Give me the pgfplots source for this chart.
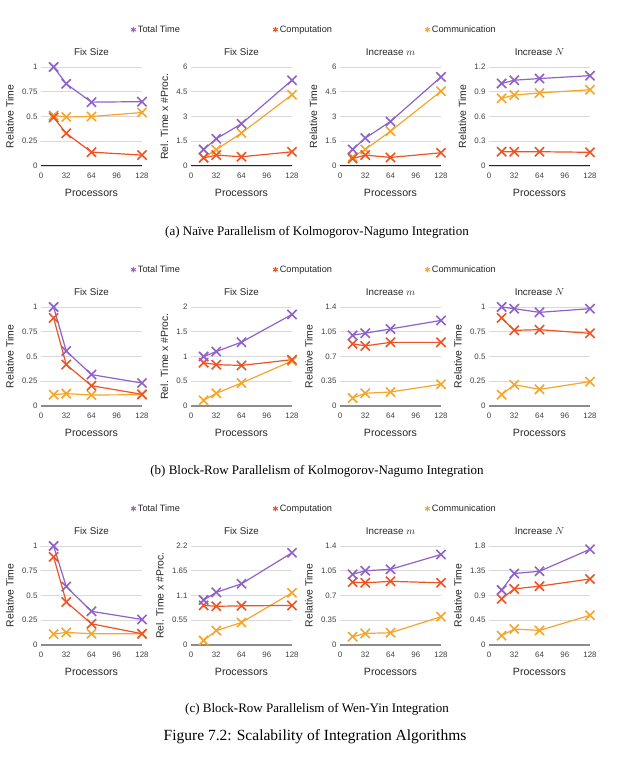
\documentclass[border=0pt]{standalone}
\usepackage{fontspec}
\setmainfont{Liberation Sans}
\newfontfamily\capfont{Liberation Serif}
\usepackage{pgfplots}
\pgfplotsset{compat=1.18}
\definecolor{ctot}{HTML}{8F62C8}
\definecolor{ccmp}{HTML}{EE5324}
\definecolor{ccom}{HTML}{F4A52C}
\pgfplotsset{
  sub/.style={scale only axis, width=101pt, height=99pt, xmin=0, xmax=128, ymin=0,
    xtick={0,32,64,96,128}, axis x line*=bottom, axis y line*=left,
    y axis line style={draw=none}, x axis line style={black!45, line width=1.5pt},
    major tick style={draw=none}, ymajorgrids, grid style={black!15, line width=0.9pt},
    tick label style={font=\fontsize{7.9}{8}\selectfont, text=black!75},
    xticklabel style={yshift=-3pt},
    /pgf/number format/assume math mode=true,
    /pgf/number format/fixed, /pgf/number format/precision=2,
    title style={font=\fontsize{9.8}{11}\selectfont, text=black!85, yshift=2pt},
    xlabel={Processors},
    xlabel style={font=\fontsize{10.6}{12}\selectfont, text=black!85, yshift=-4pt},
    ylabel style={font=\fontsize{10.4}{12}\selectfont, text=black!85, xshift=0pt, yshift=1.5pt},
    anchor=south west, clip=false},
  rowa/.style={x axis line style={black!85, line width=1pt}},
  tot/.style={color=ctot, line width=1.2pt, mark=x, mark size=6.5pt, mark options={line width=1.6pt}, forget plot},
  cmp/.style={color=ccmp, line width=1.2pt, mark=x, mark size=6.5pt, mark options={line width=1.6pt}, forget plot},
  com/.style={color=ccom, line width=1.2pt, mark=x, mark size=6.5pt, mark options={line width=1.6pt}, forget plot},
  leg/.style={legend columns=3,
    legend image code/.code={\draw[##1] plot coordinates {(0.15cm,0cm)};},
    legend style={at={(0.86,1.377)}, anchor=west, draw=none, fill=none,
      font=\fontsize{9.2}{10}\selectfont, text=black!85,
      nodes={xshift=2pt},
      /tikz/every even column/.append style={column sep=91pt}}},
}
\newcommand{\legs}{%
  \addlegendimage{only marks, mark=asterisk, mark size=2.8pt, color=ctot, line width=1pt}\addlegendentry{Total Time}
  \addlegendimage{only marks, mark=asterisk, mark size=2.8pt, color=ccmp, line width=1pt}\addlegendentry{Computation}
  \addlegendimage{only marks, mark=asterisk, mark size=2.8pt, color=ccom, line width=1pt}\addlegendentry{Communication}
}
\begin{document}
\begin{tikzpicture}[x=1pt,y=1pt]
\useasboundingbox (0,0) rectangle (620,764);
% ---------------- Row (a) ----------------
\begin{axis}[sub, rowa, leg, at={(41pt,598pt)}, title={Fix Size}, ylabel={Relative Time}, ymax=1, ytick={0,0.25,0.5,0.75,1}]
\legs
\addplot[com] coordinates {(16,0.51) (32,0.495) (64,0.50) (128,0.54)};
\addplot[cmp] coordinates {(16,0.49) (32,0.33) (64,0.14) (128,0.11)};
\addplot[tot] coordinates {(16,1.0) (32,0.83) (64,0.645) (128,0.65)};
\end{axis}
\begin{axis}[sub, rowa, at={(191pt,598pt)}, title={Fix Size}, ylabel={Rel. Time x \#Proc.}, ymax=6, ytick={0,1.5,3,4.5,6}]
\addplot[com] coordinates {(16,0.51) (32,0.99) (64,2.0) (128,4.32)};
\addplot[cmp] coordinates {(16,0.49) (32,0.66) (64,0.56) (128,0.86)};
\addplot[tot] coordinates {(16,1.0) (32,1.65) (64,2.56) (128,5.2)};
\end{axis}
\begin{axis}[sub, rowa, at={(340pt,598pt)}, title={Increase $m$}, ylabel={Relative Time}, ymax=6, ytick={0,1.5,3,4.5,6}]
\addplot[com] coordinates {(16,0.55) (32,1.0) (64,2.11) (128,4.53)};
\addplot[cmp] coordinates {(16,0.45) (32,0.66) (64,0.52) (128,0.8)};
\addplot[tot] coordinates {(16,1.0) (32,1.69) (64,2.70) (128,5.4)};
\end{axis}
\begin{axis}[sub, rowa, at={(489pt,598pt)}, title={Increase $N$}, ylabel={Relative Time}, ymax=1.2, ytick={0,0.3,0.6,0.9,1.2}]
\addplot[com] coordinates {(16,0.82) (32,0.86) (64,0.885) (128,0.925)};
\addplot[cmp] coordinates {(16,0.173) (32,0.173) (64,0.173) (128,0.166)};
\addplot[tot] coordinates {(16,1.0) (32,1.04) (64,1.06) (128,1.095)};
\end{axis}
\node[font=\capfont\fontsize{13}{15}\selectfont] at (317,532) {(a) Naïve Parallelism of Kolmogorov-Nagumo Integration};
% ---------------- Row (b) ----------------
\begin{axis}[sub, leg, at={(41pt,358pt)}, title={Fix Size}, ylabel={Relative Time}, ymax=1, ytick={0,0.25,0.5,0.75,1}]
\legs
\addplot[com] coordinates {(16,0.114) (32,0.125) (64,0.111) (128,0.114)};
\addplot[cmp] coordinates {(16,0.889) (32,0.418) (64,0.205) (128,0.118)};
\addplot[tot] coordinates {(16,1.0) (32,0.555) (64,0.317) (128,0.232)};
\end{axis}
\begin{axis}[sub, at={(191pt,358pt)}, title={Fix Size}, ylabel={Rel. Time x \#Proc.}, ymax=2, ytick={0,0.5,1,1.5,2}]
\addplot[com] coordinates {(16,0.114) (32,0.256) (64,0.465) (128,0.91)};
\addplot[cmp] coordinates {(16,0.875) (32,0.835) (64,0.82) (128,0.936)};
\addplot[tot] coordinates {(16,1.0) (32,1.10) (64,1.29) (128,1.85)};
\end{axis}
\begin{axis}[sub, at={(340pt,358pt)}, title={Increase $m$}, ylabel={Relative Time}, ymax=1.4, ytick={0,0.35,0.7,1.05,1.4}]
\addplot[com] coordinates {(16,0.113) (32,0.18) (64,0.198) (128,0.307)};
\addplot[cmp] coordinates {(16,0.88) (32,0.85) (64,0.90) (128,0.90)};
\addplot[tot] coordinates {(16,1.0) (32,1.03) (64,1.09) (128,1.21)};
\end{axis}
\begin{axis}[sub, at={(489pt,358pt)}, title={Increase $N$}, ylabel={Relative Time}, ymax=1, ytick={0,0.25,0.5,0.75,1}]
\addplot[com] coordinates {(16,0.114) (32,0.215) (64,0.168) (128,0.246)};
\addplot[cmp] coordinates {(16,0.889) (32,0.764) (64,0.771) (128,0.734)};
\addplot[tot] coordinates {(16,1.0) (32,0.983) (64,0.946) (128,0.983)};
\end{axis}
\node[font=\capfont\fontsize{13}{15}\selectfont] at (317,293) {(b) Block-Row Parallelism of Kolmogorov-Nagumo Integration};
% ---------------- Row (c) ----------------
\begin{axis}[sub, leg, at={(41pt,119pt)}, title={Fix Size}, ylabel={Relative Time}, ymax=1, ytick={0,0.25,0.5,0.75,1}]
\legs
\addplot[com] coordinates {(16,0.11) (32,0.127) (64,0.114) (128,0.114)};
\addplot[cmp] coordinates {(16,0.89) (32,0.435) (64,0.214) (128,0.114)};
\addplot[tot] coordinates {(16,1.0) (32,0.59) (64,0.34) (128,0.258)};
\end{axis}
\begin{axis}[sub, at={(191pt,119pt)}, title={Fix Size}, ylabel={Rel. Time x \#Proc.}, ymax=2.2, ytick={0,0.55,1.1,1.65,2.2}]
\addplot[com] coordinates {(16,0.10) (32,0.32) (64,0.50) (128,1.16)};
\addplot[cmp] coordinates {(16,0.88) (32,0.86) (64,0.87) (128,0.88)};
\addplot[tot] coordinates {(16,1.0) (32,1.17) (64,1.36) (128,2.05)};
\end{axis}
\begin{axis}[sub, at={(340pt,119pt)}, title={Increase $m$}, ylabel={Relative Time}, ymax=1.4, ytick={0,0.35,0.7,1.05,1.4}]
\addplot[com] coordinates {(16,0.117) (32,0.164) (64,0.173) (128,0.40)};
\addplot[cmp] coordinates {(16,0.89) (32,0.88) (64,0.90) (128,0.88)};
\addplot[tot] coordinates {(16,1.0) (32,1.05) (64,1.07) (128,1.28)};
\end{axis}
\begin{axis}[sub, at={(489pt,119pt)}, title={Increase $N$}, ylabel={Relative Time}, ymax=1.8, ytick={0,0.45,0.9,1.35,1.8}]
\addplot[com] coordinates {(16,0.17) (32,0.29) (64,0.265) (128,0.54)};
\addplot[cmp] coordinates {(16,0.84) (32,1.02) (64,1.07) (128,1.20)};
\addplot[tot] coordinates {(16,1.0) (32,1.30) (64,1.34) (128,1.74)};
\end{axis}
\node[font=\capfont\fontsize{13}{15}\selectfont] at (317,55) {(c) Block-Row Parallelism of Wen-Yin Integration};
\node[font=\capfont\fontsize{15.5}{18}\selectfont] at (315,27) {Figure 7.2: Scalability of Integration Algorithms};
\end{tikzpicture}
\end{document}
